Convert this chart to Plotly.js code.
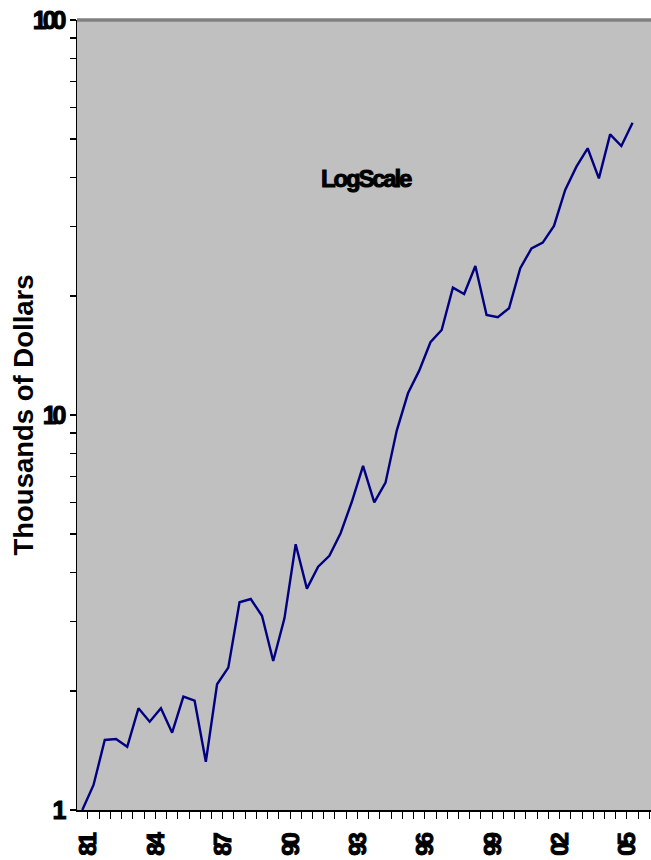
<!DOCTYPE html>
<html>
<head>
<meta charset="utf-8">
<script src="https://cdn.plot.ly/plotly-3.0.1.min.js"></script>
<style>
html, body { margin: 0; padding: 0; overflow: hidden; background: #ffffff; }
#chart { width: 651px; height: 860px; }
.ytick text { letter-spacing: -4px; stroke: #000000; stroke-width: 1px; paint-order: stroke; }
.xtick text { letter-spacing: -3px; stroke: #000000; stroke-width: 1px; paint-order: stroke; }
.annotation-text { letter-spacing: -2.2px; stroke: #000000; stroke-width: 1px; paint-order: stroke; }
</style>
</head>
<body>
<div id="chart"></div>
<script>
// Semiannual periods (decimal years)
const periods = [1981.0, 1981.5, 1982.0, 1982.5, 1983.0, 1983.5, 1984.0, 1984.5, 1985.0, 1985.5,
                 1986.0, 1986.5, 1987.0, 1987.5, 1988.0, 1988.5, 1989.0, 1989.5, 1990.0, 1990.5,
                 1991.0, 1991.5, 1992.0, 1992.5, 1993.0, 1993.5, 1994.0, 1994.5, 1995.0, 1995.5,
                 1996.0, 1996.5, 1997.0, 1997.5, 1998.0, 1998.5, 1999.0, 1999.5, 2000.0, 2000.5,
                 2001.0, 2001.5, 2002.0, 2002.5, 2003.0, 2003.5, 2004.0, 2004.5, 2005.0, 2005.5];
// Values in thousands of dollars
const values = [1.00, 1.157, 1.504, 1.512, 1.446, 1.809, 1.673, 1.809, 1.569, 1.936,
                1.891, 1.325, 2.081, 2.293, 3.356, 3.421, 3.103, 2.384, 3.057, 4.707,
                3.634, 4.13, 4.40, 5.02, 6.03, 7.43, 6.01, 6.74, 9.13, 11.35,
                12.95, 15.28, 16.41, 21.01, 20.25, 23.84, 17.92, 17.68, 18.63, 23.52,
                26.42, 27.31, 30.1, 37.12, 42.53, 47.34, 39.73, 51.35, 47.97, 54.95];
const xTickYears = [1981, 1984, 1987, 1990, 1993, 1996, 1999, 2002, 2005];
const xTickText = ['81', '84', '87', '90', '93', '96', '99', '02', '05'];
const yTickVals = [1, 10, 100];
const yTickText = ['1', '10', '100'];
const yMinorVals = [2, 3, 4, 5, 6, 7, 8, 9, 20, 30, 40, 50, 60, 70, 80, 90];

const labelOffset = 0.28;
const FONT = 'Liberation Sans, Arial, sans-serif';

const trace = {
  x: periods,
  y: values,
  type: 'scatter',
  mode: 'lines',
  line: { color: '#000080', width: 2.4 },
  hoverinfo: 'skip'
};

const layout = {
  width: 651,
  height: 860,
  margin: { l: 77, r: 0, t: 20, b: 50 },
  paper_bgcolor: '#ffffff',
  plot_bgcolor: '#C0C0C0',
  showlegend: false,
  xaxis: {
    range: [1980.7635, 2006.32],
    tickmode: 'array',
    tickvals: xTickYears.map(v => v + labelOffset),
    ticktext: xTickText,
    ticks: '',
    tickangle: -90,
    tickfont: { family: FONT, size: 24, color: '#000000', weight: 'bold' },
    ticklabelstandoff: 14,
    showgrid: false,
    zeroline: false,
    showline: true,
    linecolor: '#000000',
    linewidth: 1.5,
    minor: {
      tickmode: 'linear',
      tick0: 1980.75,
      dtick: 0.5,
      ticks: 'outside',
      ticklen: 7,
      tickwidth: 1,
      tickcolor: '#000000',
      showgrid: false
    },
    fixedrange: true
  },
  yaxis: {
    type: 'log',
    range: [0, 2],
    tickmode: 'array',
    tickvals: yTickVals,
    ticktext: yTickText,
    ticks: 'outside',
    ticklen: 6,
    tickwidth: 1.2,
    tickcolor: '#000000',
    tickfont: { family: FONT, size: 25, color: '#000000', weight: 'bold' },
    ticklabelstandoff: 2,
    showgrid: false,
    zeroline: false,
    showline: true,
    linecolor: '#000000',
    linewidth: 1.5,
    minor: {
      tickmode: 'array',
      tickvals: yMinorVals,
      ticks: 'outside',
      ticklen: 6,
      tickwidth: 1.2,
      tickcolor: '#000000',
      showgrid: false
    },
    title: {
      text: 'Thousands of Dollars',
      font: { family: FONT, size: 27.5, color: '#000000', weight: 'bold' }
    },
    automargin: false,
    fixedrange: true
  },
  shapes: [{
    type: 'line', xref: 'paper', yref: 'paper',
    x0: 0, x1: 1, y0: 1, y1: 1,
    line: { color: '#808080', width: 3.5 }
  }],
  annotations: [{
    text: 'LogScale',
    xref: 'paper', yref: 'paper',
    x: 0.5035, y: 0.799,
    xanchor: 'center', yanchor: 'middle',
    showarrow: false,
    font: { family: FONT, size: 24, color: '#000000', weight: 'bold' }
  }]
};

Plotly.newPlot('chart', [trace], layout, { displayModeBar: false, staticPlot: true }).then(function (gd) {
  // Nudge the y-axis title so it sits just left of the tick labels, as in the reference
  const t = gd.querySelector('.ytitle');
  if (t) {
    const tr = t.getAttribute('transform') || '';
    t.setAttribute('transform', 'translate(8,0) ' + tr);
  }
});
</script>
</body>
</html>
